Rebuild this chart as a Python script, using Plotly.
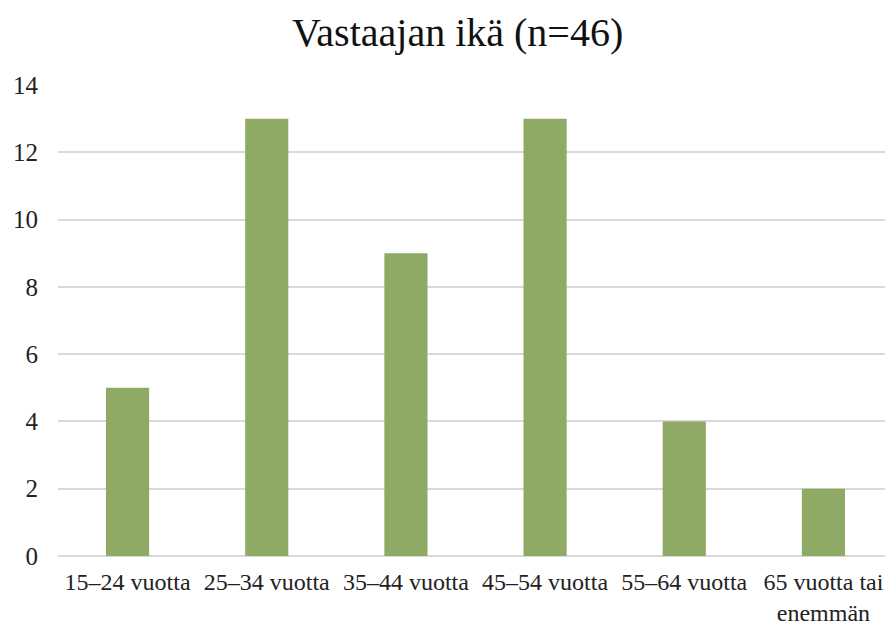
import plotly.graph_objects as go

categories = ["15–24 vuotta", "25–34 vuotta", "35–44 vuotta", "45–54 vuotta", "55–64 vuotta", "65 vuotta tai<br>enemmän"]
values = [5, 13, 9, 13, 4, 2]
y_ticks = [0, 2, 4, 6, 8, 10, 12, 14]

FONT = "Palatino Linotype, Book Antiqua, Palatino, Liberation Serif, serif"

fig = go.Figure(go.Bar(x=categories, y=values, marker=dict(color="#8faa64", line=dict(width=0)), width=0.31))

fig.update_layout(
    width=885, height=619,
    margin=dict(l=50, r=0, t=77, b=71),
    paper_bgcolor="white", plot_bgcolor="white",
    font=dict(family=FONT, size=25, color="#222222"),
    title=dict(text="Vastaajan ikä (n=46)", x=0.508, xanchor="center", y=0.961, yanchor="middle",
               font=dict(family=FONT, size=40, color="#111111")),
    showlegend=False,
)
fig.update_yaxes(range=[0, 14], tickvals=y_ticks, showgrid=True, gridcolor="#d9d9d9", gridwidth=1.5,
                 zeroline=True, zerolinecolor="#d9d9d9", zerolinewidth=1.5, ticks="", ticklabelstandoff=19,
                 showline=False, automargin=False)
fig.update_xaxes(showgrid=False, ticks="", showline=False, tickangle=0, ticklabelstandoff=9,
                 tickfont=dict(family=FONT, size=24, color="#222222"), automargin=False)

fig.write_html("out.html")
